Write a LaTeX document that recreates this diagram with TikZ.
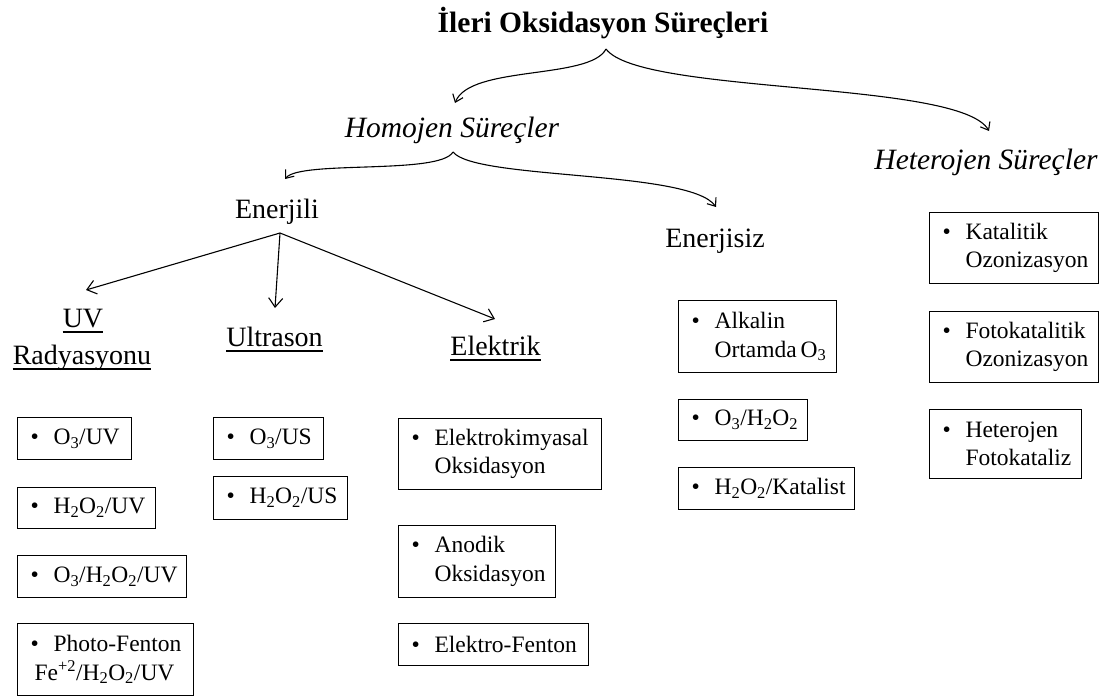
\documentclass[tikz,border=0pt]{standalone}
\usepackage{fontspec}
\setmainfont{Liberation Serif}
\usetikzlibrary{arrows.meta}
\newcommand\bul{\hspace*{13pt}\makebox[23pt][l]{\textbullet}}
\newcommand\ind{\hspace*{36pt}}
\newcommand\sub[1]{\textsubscript{#1}}
\begin{document}
\begin{tikzpicture}[x=1pt,y=-1pt,
  hd/.style={anchor=base, inner sep=0pt, font=\fontsize{28}{33}\selectfont},
  bx/.style={draw, line width=1.1pt, anchor=north west, inner sep=0pt, align=left, font=\fontsize{23.5}{28.5}\selectfont},
  brace/.style={line width=1.1pt, -{Straight Barb[length=7pt,width=11pt]}},
  arr/.style={line width=1.1pt, -{Straight Barb[length=9pt,width=14pt]}},
  ul/.style={line width=1.3pt}]
\useasboundingbox (0,0) rectangle (1110,698);
% headings
\node[anchor=base, inner sep=0pt, font=\fontsize{29.5}{34}\selectfont\bfseries] (title) at (603,33) {İleri Oksidasyon Süreçleri};
\node[hd, font=\fontsize{29.5}{34}\selectfont\itshape] (homojen) at (452,138) {Homojen Süreçler};
\node[hd, font=\fontsize{29.5}{34}\selectfont\itshape] (heterojen) at (986,169) {Heterojen Süreçler};
\node[hd] (enerjili) at (277,218) {Enerjili};
\node[hd] (enerjisiz) at (715,247) {Enerjisiz};
\node[hd] (uv) at (83,327) {UV};
\node[hd] (rad) at (82,364) {Radyasyonu};
\node[hd] (ultrason) at (274.5,346) {Ultrason};
\node[hd] (elektrik) at (495.5,355) {Elektrik};
% underlines
\foreach \n in {uv,rad,ultrason,elektrik}
  \draw[ul] ([yshift=-5pt]\n.base west) -- ([yshift=-5pt]\n.base east);
% brace connectors
\coordinate (br1) at (606,49);
\coordinate (homtip) at (455,103);
\coordinate (hettip) at (989,131);
\coordinate (br2) at (453,152);
\coordinate (enltip) at (285,179);
\coordinate (ensztip) at (716,207);
\draw[brace] (br1) .. controls (590,80) and (470,65) .. (homtip);
\draw[brace] (br1) .. controls (640,95) and (960,80) .. (hettip);
\draw[brace] (br2) .. controls (440,175) and (300,160) .. (enltip);
\draw[brace] (br2) .. controls (475,180) and (690,170) .. (ensztip);
% arrows from Enerjili
\coordinate (eo) at (280,233);
\coordinate (uvtip) at (86,290);
\coordinate (ustip) at (275,308);
\coordinate (eltip) at (495,319);
\draw[arr] (eo) -- (uvtip);
\draw[arr] (eo) -- (ustip);
\draw[arr] (eo) -- (eltip);
% boxes
\node[bx, text width=114pt, minimum height=42pt] (b1) at (17,417) {\bul O\sub3/UV};
\node[bx, text width=138pt, minimum height=41pt] (b2) at (17,487) {\bul H\sub2O\sub2/UV};
\node[bx, text width=169pt, minimum height=42pt] (b3) at (17,555) {\bul O\sub3/H\sub2O\sub2/UV};
\node[bx, text width=176pt, minimum height=72pt] (b4) at (17,623) {\bul Photo-Fenton\\\hspace*{17pt}Fe\textsuperscript{+2}/H\sub2O\sub2/UV};
\node[bx, text width=110pt, minimum height=42pt] (b5) at (213,417) {\bul O\sub3/US};
\node[bx, text width=134pt, minimum height=43pt] (b6) at (213,476) {\bul H\sub2O\sub2/US};
\node[bx, text width=203pt, minimum height=71pt] (b7) at (398,418) {\bul Elektrokimyasal\\\ind Oksidasyon};
\node[bx, text width=157pt, minimum height=72pt] (b8) at (398,525) {\bul Anodik\\\ind Oksidasyon};
\node[bx, text width=190pt, minimum height=42pt] (b9) at (398,623) {\bul Elektro-Fenton};
\node[bx, text width=158pt, minimum height=72pt] (b10) at (678,300) {\bul Alkalin\\\ind Ortamda\,O\sub3};
\node[bx, text width=129pt, minimum height=41pt] (b11) at (678,399) {\bul O\sub3/H\sub2O\sub2};
\node[bx, text width=176pt, minimum height=42pt] (b12) at (678,467) {\bul H\sub2O\sub2/Katalist};
\node[bx, text width=169pt, minimum height=71pt] (b13) at (929,212) {\bul Katalitik\\\ind Ozonizasyon};
\node[bx, text width=169pt, minimum height=71pt] (b14) at (929,311) {\bul Fotokatalitik\\\ind Ozonizasyon};
\node[bx, text width=152pt, minimum height=69pt] (b15) at (929,409) {\bul Heterojen\\\ind Fotokataliz};
\end{tikzpicture}
\end{document}
